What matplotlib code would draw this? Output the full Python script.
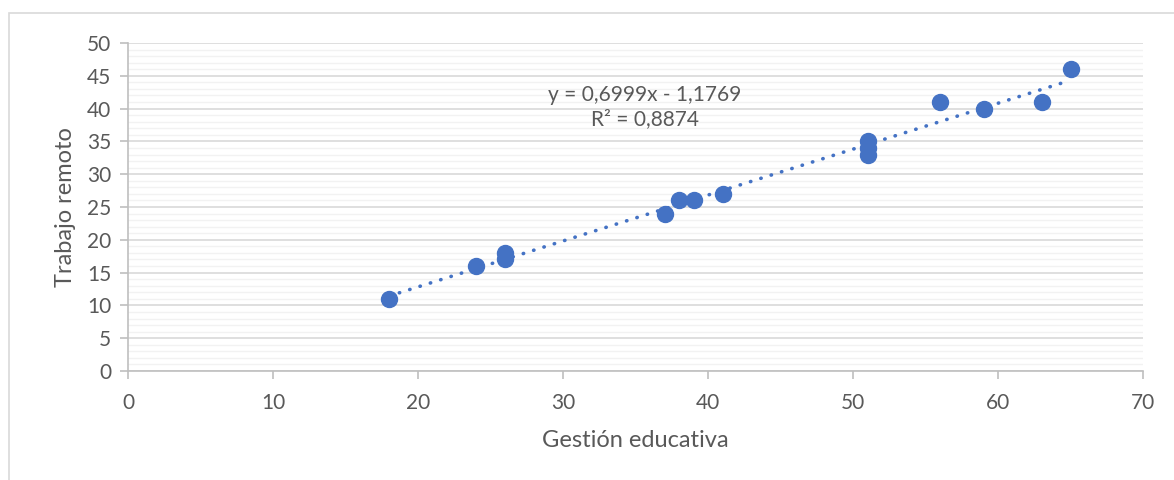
import matplotlib
matplotlib.use('Agg')
import matplotlib.pyplot as plt
from matplotlib.patches import Rectangle
import numpy as np

# data
gestion = [18, 24, 26, 26, 37, 38, 39, 41, 51, 51, 51, 56, 59, 63, 65]
trabajo = [11, 16, 17, 18, 24, 26, 26, 27, 33, 34, 35, 41, 40, 41, 46]
slope = 0.6999
intercept = -1.1769
r2 = 0.8874

blue = '#4472C4'
grey_txt = '#595959'
plt.rcParams['font.family'] = ['Lato', 'DejaVu Sans']


def coma(v):
    # decimal comma, as in the original
    return f'{v:.4f}'.replace('.', ',')


fig = plt.figure(figsize=(11.74, 4.8), dpi=100)
ax = fig.add_axes([128 / 1174, 1 - 371 / 480, (1143 - 128) / 1174, (371 - 43) / 480])

# outer chart border (runs off the right and bottom of the picture)
fig.patches.append(Rectangle((9 / 1174, -0.1), 1.2, 1 - 13.5 / 480 + 0.1,
                             transform=fig.transFigure, fill=False,
                             edgecolor='#D9D9D9', lw=1.2))

# trendline over the data range
xs = np.array([min(gestion), max(gestion)])
ax.plot(xs, slope * xs + intercept, color=blue, lw=2.6,
        linestyle=(0, (0.1, 2.9)), dash_capstyle='round', zorder=3)
ax.plot(gestion, trabajo, 'o', color=blue, ms=11.5, zorder=4)

ax.set_xlim(0, 70)
ax.set_ylim(0, 50)
ax.set_xticks(np.arange(0, 71, 10))
ax.set_yticks(np.arange(0, 51, 5))
ax.set_yticks(np.arange(0, 51, 1), minor=True)
ax.grid(axis='y', which='major', color='#D9D9D9', lw=1.2, zorder=0)
ax.grid(axis='y', which='minor', color='#F2F2F2', lw=1.0, zorder=0)
ax.set_axisbelow(True)

for s in ['top', 'right']:
    ax.spines[s].set_visible(False)
for s in ['left', 'bottom']:
    ax.spines[s].set_color('#BFBFBF')
    ax.spines[s].set_linewidth(1.2)
ax.tick_params(which='major', direction='out', length=6, width=1.2,
               color='#BFBFBF', labelcolor=grey_txt, labelsize=15)
ax.tick_params(axis='y', which='minor', length=0)
ax.tick_params(axis='x', pad=10)
ax.tick_params(axis='y', pad=6)

ax.set_xlabel('Gestión educativa', color=grey_txt, fontsize=17, labelpad=12)
ax.set_ylabel('Trabajo remoto', color=grey_txt, fontsize=17, labelpad=8)

ax.text(645 / 1174, 1 - 107 / 480,
        f'y = {coma(slope)}x - {coma(abs(intercept))}\nR² = {coma(r2)}',
        transform=fig.transFigure, ha='center', va='center', color=grey_txt,
        fontsize=15, linespacing=1.3)

fig.savefig('out.png', dpi=100)
